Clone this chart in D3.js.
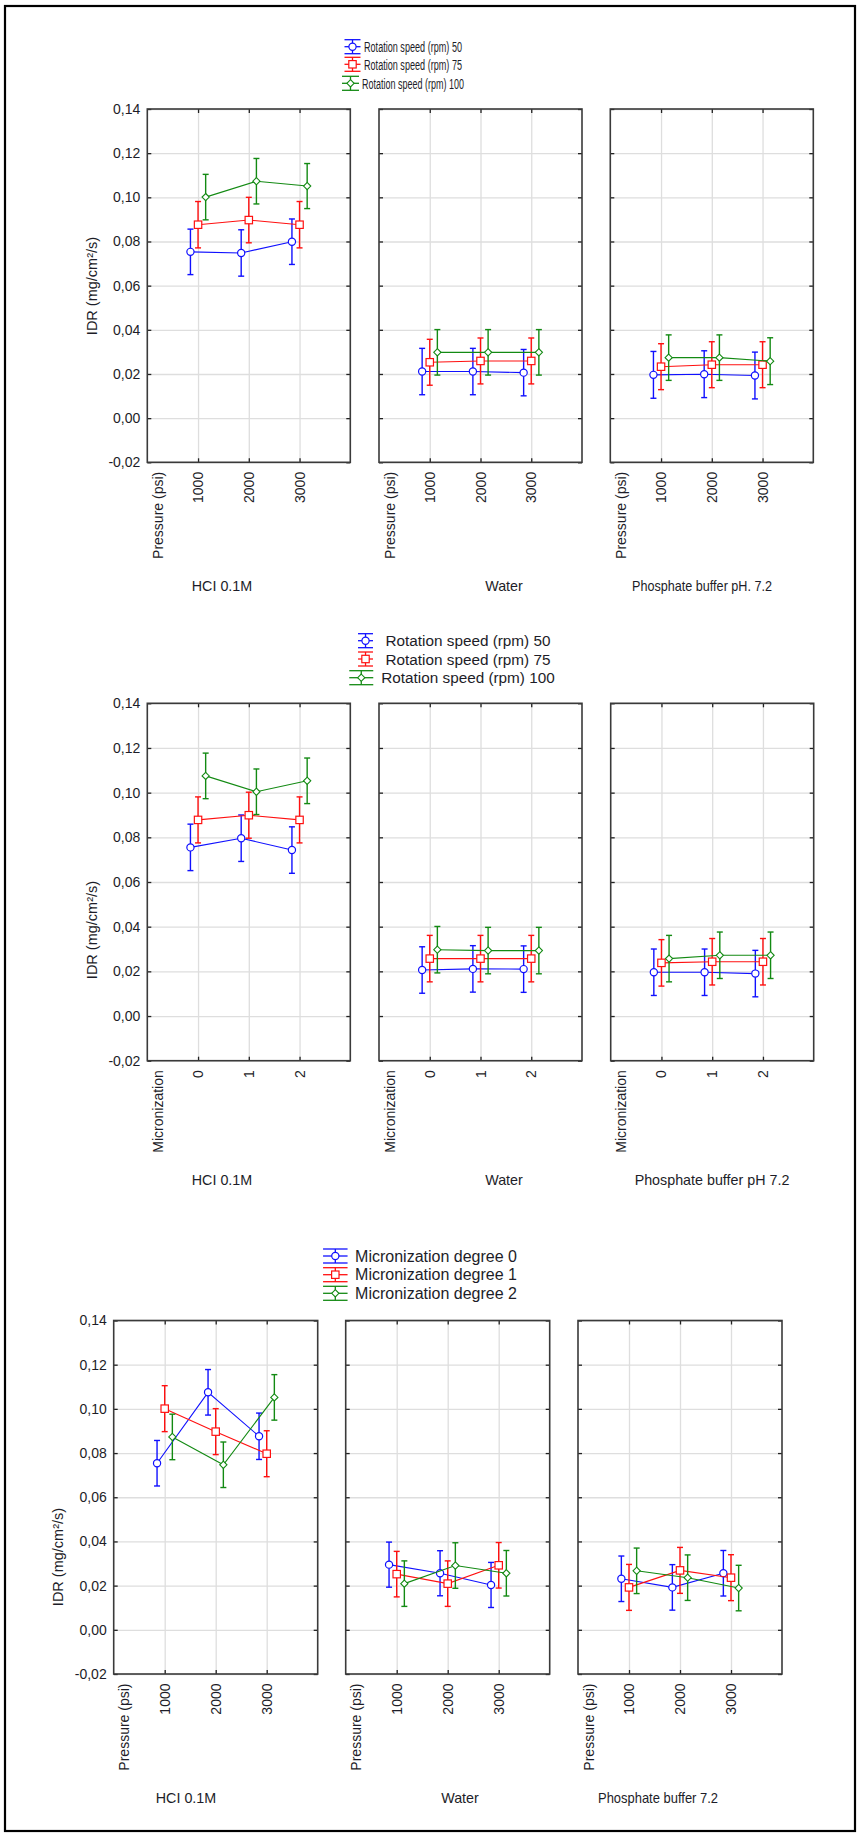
<!DOCTYPE html>
<html>
<head>
<meta charset="utf-8">
<script src="https://cdn.jsdelivr.net/npm/d3@7"></script>
<style>
  body { margin: 0; background: #fff; }
  text { font-family: "Liberation Sans", Arial, sans-serif; fill: #1d1d28; }
</style>
</head>
<body>
<script>
// ---------------------------------------------------------------------------
// DATA
// ---------------------------------------------------------------------------
const yTicks = [-0.02, 0, 0.02, 0.04, 0.06, 0.08, 0.10, 0.12, 0.14];
const pressureLevels = ["1000", "2000", "3000"];
const micronLevels = ["0", "1", "2"];

const speedSeries = ["Rotation speed (rpm) 50", "Rotation speed (rpm) 75", "Rotation speed (rpm) 100"];
const micronSeries = ["Micronization degree 0", "Micronization degree 1", "Micronization degree 2"];

const mediaChart1 = ["HCI 0.1M", "Water", "Phosphate buffer pH. 7.2"];
const mediaChart2 = ["HCI 0.1M", "Water", "Phosphate buffer pH 7.2"];
const mediaChart3 = ["HCI 0.1M", "Water", "Phosphate buffer 7.2"];

// means[panel][series][level]
const speedByPressureMean = [
  [[0.0753, 0.0748, 0.0799], [0.0876, 0.0897, 0.0876], [0.1001, 0.1073, 0.1051]],
  [[0.0211, 0.0211, 0.0206], [0.0253, 0.0259, 0.0259], [0.0298, 0.0298, 0.0298]],
  [[0.0196, 0.0199, 0.0193], [0.0233, 0.0242, 0.0242], [0.0274, 0.0274, 0.0258]]
];
const speedByPressureErr = [
  [[0.0103, 0.0105, 0.0103], [0.0105, 0.0103, 0.0105], [0.0103, 0.0103, 0.0102]],
  [[0.0105, 0.0105, 0.0105], [0.0104, 0.0104, 0.0104], [0.0103, 0.0103, 0.0103]],
  [[0.0106, 0.0106, 0.0106], [0.0104, 0.0104, 0.0104], [0.0103, 0.0103, 0.0106]]
];

const speedByMicronMean = [
  [[0.0755, 0.0796, 0.0743], [0.0878, 0.0899, 0.0878], [0.1075, 0.1004, 0.1053]],
  [[0.0206, 0.0211, 0.0210], [0.0257, 0.0257, 0.0257], [0.0297, 0.0293, 0.0293]],
  [[0.0196, 0.0196, 0.0190], [0.0238, 0.0243, 0.0243], [0.0257, 0.0272, 0.0272]]
];
const speedByMicronErr = [
  [[0.0104, 0.0104, 0.0104], [0.0103, 0.0103, 0.0103], [0.0102, 0.0102, 0.0102]],
  [[0.0104, 0.0104, 0.0104], [0.0104, 0.0104, 0.0104], [0.0104, 0.0104, 0.0104]],
  [[0.0104, 0.0104, 0.0104], [0.0104, 0.0104, 0.0104], [0.0104, 0.0104, 0.0104]]
];

const micronByPressureMean = [
  [[0.0754, 0.1075, 0.0876], [0.1001, 0.0897, 0.0797], [0.0873, 0.0747, 0.1052]],
  [[0.0295, 0.0256, 0.0203], [0.0252, 0.0209, 0.0292], [0.0209, 0.0291, 0.0256]],
  [[0.0231, 0.0192, 0.0256], [0.0192, 0.0269, 0.0236], [0.0267, 0.0236, 0.0189]]
];
const micronByPressureErr = [
  [[0.0103, 0.0103, 0.0105], [0.0104, 0.0104, 0.0104], [0.0103, 0.0103, 0.0103]],
  [[0.0102, 0.0102, 0.0102], [0.0103, 0.0103, 0.0103], [0.0103, 0.0103, 0.0103]],
  [[0.0103, 0.0103, 0.0103], [0.0104, 0.0104, 0.0104], [0.0103, 0.0103, 0.0103]]
];

// ---------------------------------------------------------------------------
// LAYOUT
// ---------------------------------------------------------------------------
const W = 859, H = 1834;
const colors = ["#1010ff", "#ff1010", "#138a13"];
const shapes = ["circle", "square", "diamond"];
const offsets = [-0.15, 0, 0.15];

const charts = [
  {
    top: 109, bottom: 462.3, lefts: [147.3, 379, 610.3], width: 203,
    levels: pressureLevels, xTitle: "Pressure (psi)",
    media: mediaChart1, mediaX: [222, 504, 702], mediaY: 586, mediaLen: [null, null, 140],
    series: speedSeries, mean: speedByPressureMean, err: speedByPressureErr,
    yTitle: { cy: 286 },
    // the top legend is drawn horizontally squeezed in the original
    legend: { cx: 403, ys: [46.7, 64.3, 83.3], font: 15.3, textLen: [98, 98, 102], box: 17, capW: [16, 16, 17], gap: 3 }
  },
  {
    top: 703.3, bottom: 1060.7, lefts: [147.3, 379, 610.7], width: 203,
    levels: micronLevels, xTitle: "Micronization",
    media: mediaChart2, mediaX: [222, 504, 712], mediaY: 1180, mediaLen: [null, null, null],
    series: speedSeries, mean: speedByMicronMean, err: speedByMicronErr,
    yTitle: { cy: 930 },
    legend: { cx: 452, ys: [640.7, 659, 677.7], font: 15.3, textLen: null, box: 24, capW: [15, 15, 24], gap: 8 }
  },
  {
    top: 1320.5, bottom: 1674, lefts: [113.7, 345.7, 578], width: 204,
    levels: pressureLevels, xTitle: "Pressure (psi)",
    media: mediaChart3, mediaX: [186, 460, 658], mediaY: 1798, mediaLen: [null, null, 120],
    series: micronSeries, mean: micronByPressureMean, err: micronByPressureErr,
    yTitle: { cy: 1557 },
    legend: { cx: 420, ys: [1256, 1274.7, 1293.3], font: 16, textLen: null, box: 24.5, capW: [24.5, 24.5, 24.5], gap: 7.5 }
  }
];

const fmt = d => (d < 0 ? "-" : "") + Math.abs(d).toFixed(2).replace(".", ",");

const svg = d3.select("body").append("svg")
  .attr("width", W)
  .attr("height", H);

svg.append("rect")
  .attr("x", 5).attr("y", 6)
  .attr("width", 850).attr("height", 1825)
  .attr("fill", "none")
  .attr("stroke", "#000")
  .attr("stroke-width", 2.2);

function drawMarker(g, shape, color, cx, cy) {
  if (shape === "circle") {
    g.append("circle").attr("cx", cx).attr("cy", cy).attr("r", 3.6)
      .attr("fill", "#fff").attr("stroke", color).attr("stroke-width", 1.2);
  } else if (shape === "square") {
    g.append("rect").attr("x", cx - 3.7).attr("y", cy - 3.7).attr("width", 7.4).attr("height", 7.4)
      .attr("fill", "#fff").attr("stroke", color).attr("stroke-width", 1.2);
  } else {
    const r = 3.6;
    g.append("path").attr("d", `M${cx},${cy - r}L${cx + r},${cy}L${cx},${cy + r}L${cx - r},${cy}Z`)
      .attr("fill", "#fff").attr("stroke", color).attr("stroke-width", 1.1);
  }
}

charts.forEach(c => {
  const h = c.bottom - c.top;
  const y = d3.scaleLinear().domain([-0.02, 0.14]).range([c.bottom, c.top]);

  // legend, each row centred on c.legend.cx
  const lg = svg.append("g").attr("class", "legend");
  c.series.forEach((name, i) => {
    const row = lg.append("g");
    const t = row.append("text")
      .attr("y", c.legend.ys[i])
      .attr("dominant-baseline", "central")
      .attr("font-size", c.legend.font)
      .text(name);
    if (c.legend.textLen) {
      t.attr("textLength", c.legend.textLen[i]).attr("lengthAdjust", "spacingAndGlyphs");
    }
    const tw = c.legend.textLen ? c.legend.textLen[i] : t.node().getComputedTextLength();
    const total = c.legend.box + c.legend.gap + tw;
    const x0 = c.legend.cx - total / 2;
    t.attr("x", x0 + c.legend.box + c.legend.gap);
    const sx = x0 + c.legend.box / 2, sy = c.legend.ys[i], cw = c.legend.capW[i] / 2;
    const s = row.append("g").attr("stroke", colors[i]).attr("stroke-width", 1.3);
    s.append("line").attr("x1", sx - cw).attr("x2", sx + cw).attr("y1", sy - 7).attr("y2", sy - 7);
    s.append("line").attr("x1", sx - cw).attr("x2", sx + cw).attr("y1", sy + 7).attr("y2", sy + 7);
    s.append("line").attr("x1", sx).attr("x2", sx).attr("y1", sy - 7).attr("y2", sy + 7);
    s.append("line").attr("x1", sx - cw).attr("x2", sx + cw).attr("y1", sy).attr("y2", sy);
    drawMarker(row, shapes[i], colors[i], sx, sy);
  });

  // y title
  svg.append("text")
    .attr("transform", `translate(${c.lefts[0] - 55.6},${c.yTitle.cy}) rotate(-90)`)
    .attr("text-anchor", "middle")
    .attr("dominant-baseline", "central")
    .attr("font-size", 14.5)
    .text("IDR (mg/cm²/s)");

  c.lefts.forEach((left, p) => {
    const x = d3.scaleLinear().domain([0, 4]).range([left, left + c.width]);
    const g = svg.append("g").attr("class", "panel");

    // grid
    g.append("g")
      .attr("transform", `translate(${left},0)`)
      .call(d3.axisLeft(y).tickValues(yTicks).tickSize(-c.width).tickFormat(""))
      .call(a => a.select(".domain").remove())
      .call(a => a.selectAll("line").attr("stroke", "#dedede").attr("stroke-width", 1.3));
    g.append("g")
      .attr("transform", `translate(0,${c.bottom})`)
      .call(d3.axisBottom(x).tickValues([1, 2, 3]).tickSize(-h).tickFormat(""))
      .call(a => a.select(".domain").remove())
      .call(a => a.selectAll("line").attr("stroke", "#dedede").attr("stroke-width", 1.3));

    // inner tick marks on all four sides
    const tickStyle = a => {
      a.select(".domain").remove();
      a.selectAll("line").attr("stroke", "#222").attr("stroke-width", 1.3);
    };
    g.append("g").attr("transform", `translate(${left},0)`)
      .call(d3.axisLeft(y).tickValues(yTicks).tickSize(-4).tickFormat("")).call(tickStyle);
    g.append("g").attr("transform", `translate(${left + c.width},0)`)
      .call(d3.axisRight(y).tickValues(yTicks).tickSize(-4).tickFormat("")).call(tickStyle);
    g.append("g").attr("transform", `translate(0,${c.top})`)
      .call(d3.axisTop(x).tickValues([1, 2, 3]).tickSize(-4).tickFormat("")).call(tickStyle);
    g.append("g").attr("transform", `translate(0,${c.bottom})`)
      .call(d3.axisBottom(x).tickValues([1, 2, 3]).tickSize(-4).tickFormat("")).call(tickStyle);

    // frame
    g.append("rect")
      .attr("x", left).attr("y", c.top)
      .attr("width", c.width).attr("height", h)
      .attr("fill", "none").attr("stroke", "#3a3a3a").attr("stroke-width", 1.6);

    // y tick labels only on the first panel
    if (p === 0) {
      g.append("g")
        .attr("transform", `translate(${left},0)`)
        .call(d3.axisLeft(y).tickValues(yTicks).tickSize(0).tickPadding(7).tickFormat(fmt))
        .call(a => a.select(".domain").remove())
        .call(a => a.selectAll("text")
          .attr("font-size", 14)
          .attr("font-family", "Liberation Sans, Arial, sans-serif")
          .attr("fill", "#1d1d28"));
    }

    // rotated x labels
    g.append("text")
      .attr("transform", `translate(${left + 10.5},${c.bottom + 9.5}) rotate(-90)`)
      .attr("text-anchor", "end")
      .attr("dominant-baseline", "central")
      .attr("font-size", 14)
      .text(c.xTitle);
    g.selectAll("text.xl")
      .data(c.levels)
      .join("text")
      .attr("class", "xl")
      .attr("transform", (d, i) => `translate(${x(i + 1)},${c.bottom + 9.5}) rotate(-90)`)
      .attr("text-anchor", "end")
      .attr("dominant-baseline", "central")
      .attr("font-size", 14)
      .text(d => d);

    // medium label
    const mt = g.append("text")
      .attr("x", c.mediaX[p])
      .attr("y", c.mediaY)
      .attr("text-anchor", "middle")
      .attr("dominant-baseline", "central")
      .attr("font-size", 14.3)
      .text(c.media[p]);
    if (c.mediaLen[p]) mt.attr("textLength", c.mediaLen[p]).attr("lengthAdjust", "spacingAndGlyphs");

    // series
    c.series.forEach((name, s) => {
      const pts = c.mean[p][s].map((m, i) => ({
        x: x(i + 1 + offsets[s]),
        m: m,
        e: c.err[p][s][i]
      }));
      g.append("path")
        .datum(pts)
        .attr("d", d3.line().x(d => d.x).y(d => y(d.m)))
        .attr("fill", "none")
        .attr("stroke", colors[s])
        .attr("stroke-width", 1.1);
      const eb = g.append("g").attr("stroke", colors[s]).attr("stroke-width", 1.4);
      pts.forEach(d => {
        eb.append("line").attr("x1", d.x).attr("x2", d.x).attr("y1", y(d.m - d.e)).attr("y2", y(d.m + d.e));
        eb.append("line").attr("x1", d.x - 3).attr("x2", d.x + 3).attr("y1", y(d.m - d.e)).attr("y2", y(d.m - d.e));
        eb.append("line").attr("x1", d.x - 3).attr("x2", d.x + 3).attr("y1", y(d.m + d.e)).attr("y2", y(d.m + d.e));
      });
      pts.forEach(d => drawMarker(g, shapes[s], colors[s], d.x, y(d.m)));
    });
  });
});
</script>
</body>
</html>
